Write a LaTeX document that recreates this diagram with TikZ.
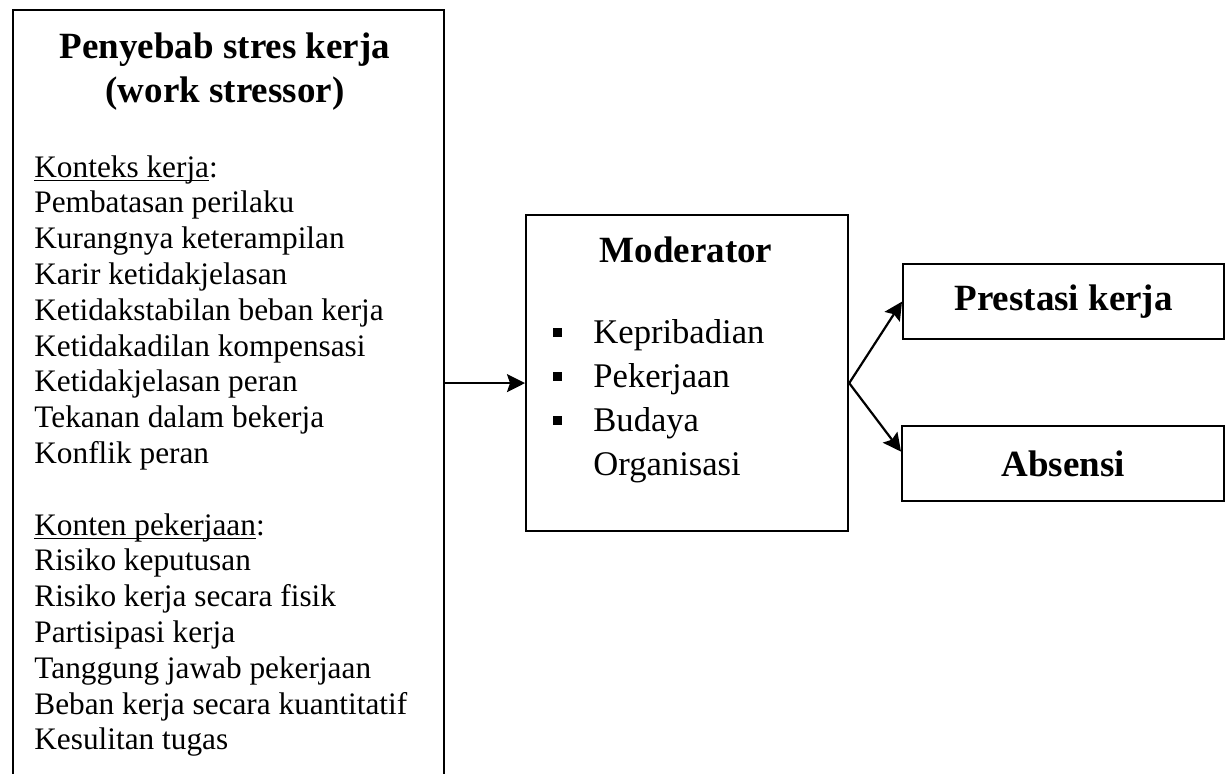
\documentclass[tikz,border=0pt]{standalone}
\usepackage{fontspec}
\setmainfont{Liberation Serif}
\usetikzlibrary{positioning,arrows.meta,calc}

\newcommand{\ulined}[1]{\setbox0\hbox{#1}\rlap{\rule[-2pt]{\wd0}{0.7pt}}\box0}

\begin{document}
\begin{tikzpicture}[
    x=0.5pt, y=-0.5pt,
    box/.style={rectangle, draw, line width=1.1pt, anchor=north west, inner sep=0pt, minimum width=#1},
    head/.style={font=\fontsize{18.5}{22}\selectfont\bfseries},
    body/.style={font=\fontsize{15.65}{17.9}\selectfont, inner sep=0pt, anchor=base west},
    modtext/.style={font=\fontsize{17.3}{22}\selectfont, inner sep=0pt, anchor=base west},
    bullet/.style={rectangle, fill, inner sep=0pt, minimum size=4.5pt},
    arrow/.style={-{Stealth[length=9pt,width=9pt,inset=1.5pt]}, line width=1.1pt}
]
    \useasboundingbox (0,0) rectangle (1225,773);
    \clip (0,0) rectangle (1225,773);

    % Boxes
    \node[box=215.5pt, minimum height=395.5pt] (stressor) at (12,9) {};
    \node[box=161pt, minimum height=158pt] (moderator) at (525,214) {};
    \node[box=160.5pt, minimum height=37.5pt, head] (prestasi) at (902,263) {Prestasi kerja};
    \node[box=161pt, minimum height=37.5pt, head] (absensi) at (901,425) {Absensi};

    % Work stressor
    \node[head, inner sep=0pt, anchor=base] (title1) at (225,58) {Penyebab stres kerja};
    \node[head, inner sep=0pt, anchor=base] (title2) at (225,102) {(work stressor)};
    \foreach \txt [count=\i from 0] in {{\ulined{Konteks kerja}:}, Pembatasan perilaku,
        Kurangnya keterampilan, Karir ketidakjelasan, Ketidakstabilan beban kerja,
        Ketidakadilan kompensasi, Ketidakjelasan peran, Tekanan dalam bekerja, Konflik peran}
        \node[body] (ctx\i) at (34, {177+35.8*\i}) {\txt};
    \foreach \txt [count=\i from 0] in {{\ulined{Konten pekerjaan}:}, Risiko keputusan,
        Risiko kerja secara fisik, Partisipasi kerja, Tanggung jawab pekerjaan,
        Beban kerja secara kuantitatif, Kesulitan tugas}
        \node[body] (cnt\i) at (34, {535+35.8*\i}) {\txt};

    % Moderator
    \node[head, inner sep=0pt, anchor=base] (modhead) at (686,262) {Moderator};
    \foreach \txt [count=\i] in {Kepribadian, Pekerjaan, Budaya, Organisasi}
        \node[modtext] (mod\i) at (593, {299+44*\i}) {\txt};
    \foreach \i in {1,2,3}
        \node[bullet] (dot\i) at (557, {288+44*\i}) {};

    % Arrows
    \coordinate (fork) at ($(moderator.east)+(0,10)$);
    \draw[arrow] (stressor.east |- fork) -- (moderator.west |- fork);
    \draw[arrow] (fork) -- (prestasi.west);
    \draw[arrow] (fork) -- ($(absensi.west)+(0,-12)$);
\end{tikzpicture}
\end{document}
